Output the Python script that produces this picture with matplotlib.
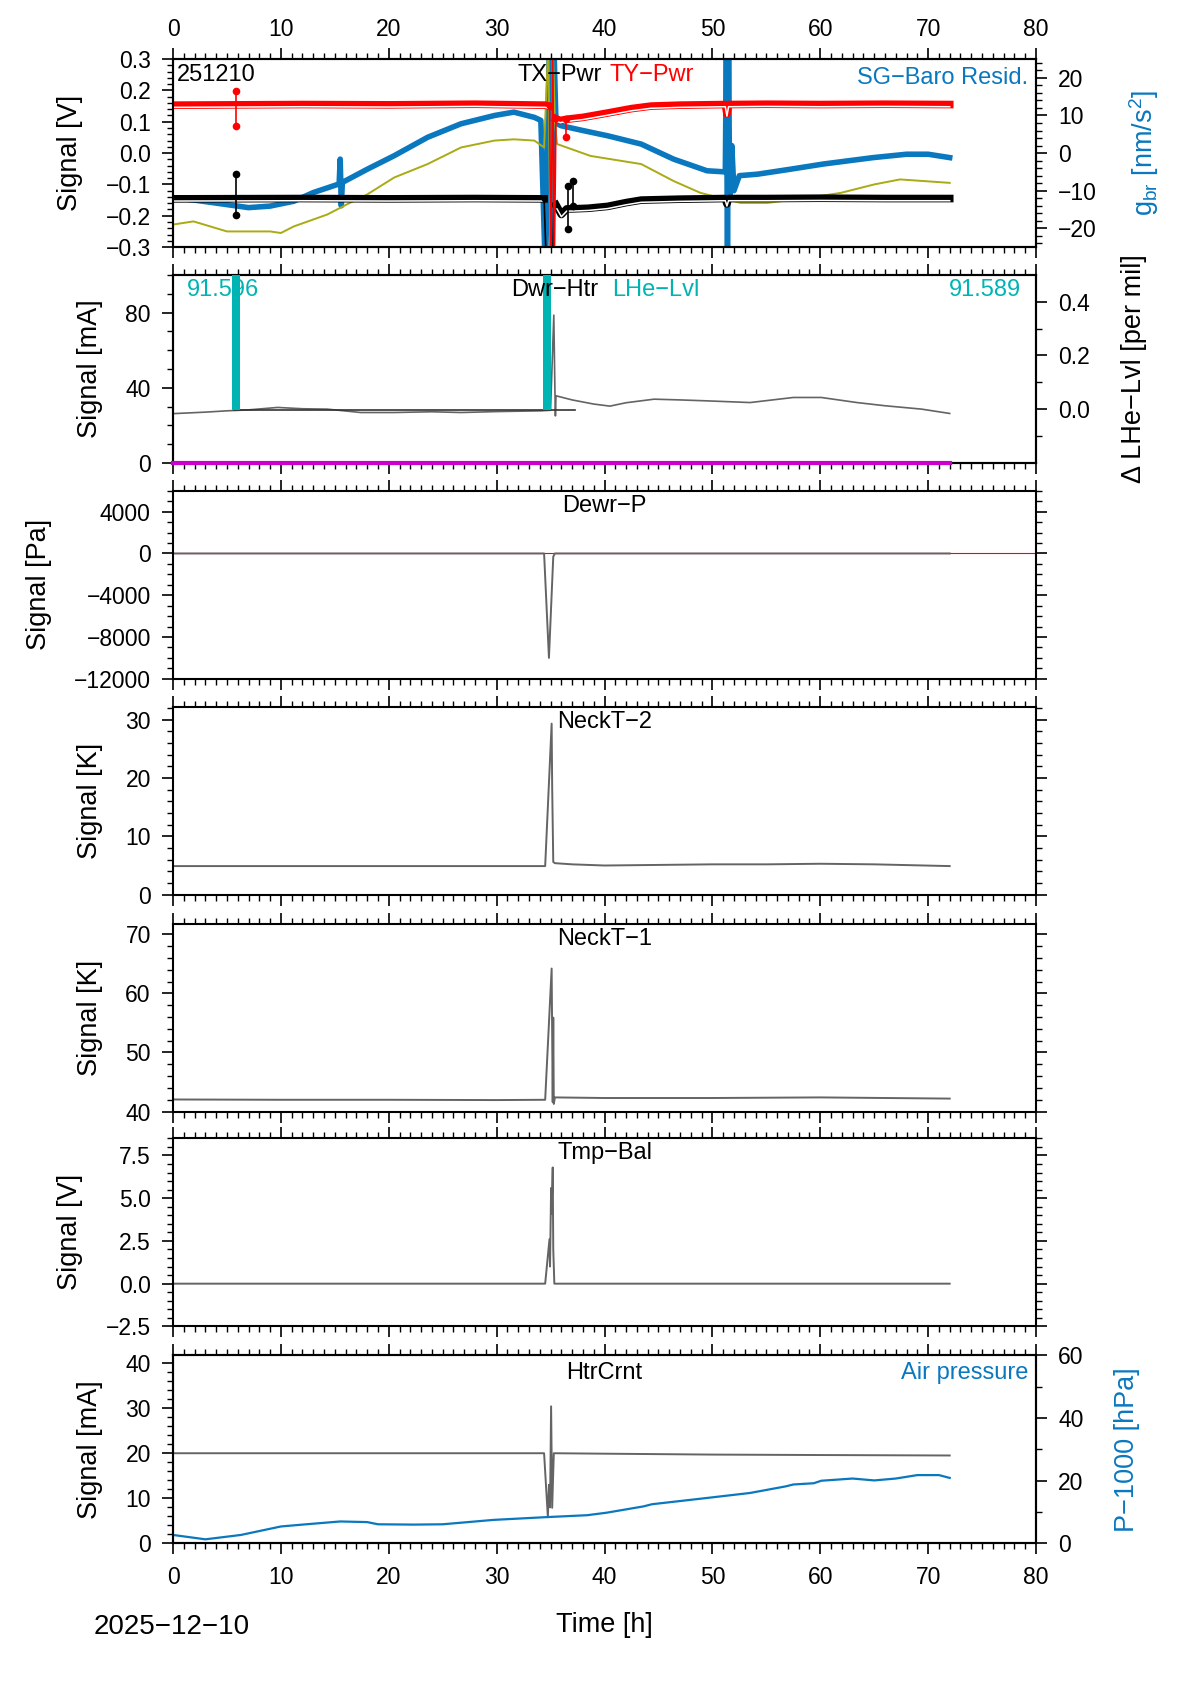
import matplotlib
matplotlib.use("Agg")
import matplotlib.pyplot as plt
from matplotlib.ticker import MultipleLocator, FixedLocator, FormatStrFormatter

plt.rcParams["font.family"] = ["Liberation Sans", "DejaVu Sans"]
plt.rcParams["mathtext.fontset"] = "custom"
plt.rcParams["mathtext.rm"] = "Liberation Sans"
plt.rcParams["mathtext.it"] = "Liberation Sans:italic"
plt.rcParams["axes.linewidth"] = 1.5

BLUE = "#0a78be"
RED = "#ff0000"
OLIVE = "#aaaa14"
TEAL = "#00b4b4"
GRAY = "#646464"
MAGENTA = "#cc00cc"
nan = float("nan")

# ---- panel 1: TX-Pwr / TY-Pwr [V], SG-Baro residual [nm/s^2]
red_t = [0, 12, 20, 28, 34.5, 34.9, nan, 35.5, 35.9, 36.5, 38, 40.3, 42.5, 44.3, 47, 51.2,
         51.35, 51.5, 55, 60, 66, 72]
red_v = [0.153, 0.155, 0.154, 0.156, 0.153, 0.150, nan, 0.110, 0.104, 0.108, 0.114, 0.128,
         0.142, 0.150, 0.153, 0.155, 0.125, 0.155, 0.156, 0.155, 0.156, 0.155]
red_evt_t = [34.9, 35.05, 35.2, 35.35, 35.5]
red_evt_v = [0.150, -0.35, 0.35, -0.35, 0.110]
red_spk_t = [5.8, 36.45]
red_spk_hi = [0.198, 0.108]
red_spk_lo = [0.088, 0.050]

blk_t = [0, 12, 20, 28, 34.4, nan, 35.5, 36.0, 36.5, 37.0, 38.5, 40.3, 42, 43.4, 47, 51.2,
         51.35, 51.5, 55, 60, 66, 72]
blk_v = [-0.146, -0.145, -0.146, -0.145, -0.146, nan, -0.165, -0.196, -0.178, -0.178,
         -0.176, -0.170, -0.158, -0.150, -0.147, -0.145, -0.162, -0.145, -0.145, -0.144,
         -0.145, -0.145]
blk_evt_t = [34.4, 34.6, 35.2, 35.3, 35.5]
blk_evt_v = [-0.146, -0.35, -0.35, -0.165, -0.165]
blk_spk_t = [5.8, 36.6, 37.05]
blk_spk_hi = [-0.067, -0.105, -0.090]
blk_spk_lo = [-0.198, -0.243, -0.170]

olv_t = [0, 1.9, 5, 9, 10, 11.2, 14.3, 16.1, 18, 20.5, 23.6, 26.7, 29.8, 31.6, 33.5, 34.4,
         34.8, 35.0, 35.2, 35.4, 35.6, 38.7, 43.4, 46.4, 48.9, 52.6, 55.1, 58.8, 61.9, 65,
         67.4, 72]
olv_v = [-0.228, -0.218, -0.250, -0.250, -0.255, -0.234, -0.196, -0.164, -0.132, -0.078,
         -0.035, 0.018, 0.040, 0.044, 0.040, 0.018, 0.35, -0.35, 0.35, 0.10, 0.029, -0.009,
         -0.035, -0.089, -0.127, -0.159, -0.159, -0.143, -0.127, -0.100, -0.084, -0.095]

sg_t = [0, 2, 5, 7, 9, 11.2, 13, 15.4, 15.5, 15.6, 15.7, 18, 20.5, 23.6, 26.7, 29.8, 31.6,
        33.5, 34.1, 34.5, 34.9, 35.1, 35.3, 35.5, 35.95, 38, 40.3, 43.4, 46.4, 49.5, 51.2,
        51.3, 51.4, 51.5, 51.6, 51.8, 52.0, 52.5, 54.2, 57.2, 60.3, 64.9, 68, 70, 72]
sg_v = [-11.9, -12.5, -13.7, -14.5, -14.1, -12.8, -10.5, -8.2, -1.6, -14.0, -7.8, -4.3,
        -0.7, 4.2, 7.8, 10.0, 10.9, 9.5, 8.7, -30, 30, -30, 30, 8.0, 7.3, 6.0, 4.6, 2.4,
        -1.6, -4.7, -5.0, 30, -30, 30, -12, 2, -10, -6.0, -5.6, -4.3, -2.9, -1.2, -0.3,
        -0.3, -1.2]

# ---- panel 2: Dwr-Htr [mA], LHe-Lvl
htr_t = [0, 3, 5, 7, 9.7, 12, 14.3, 17.4, 20.5, 24, 26.7, 30, 34.1, 35.0, 35.3, 35.4,
         35.45, 35.5, 37, 39, 40.5, 42, 44.6, 47, 49.5, 53.5, 57.5, 60.1, 63.4, 66, 69.4, 72]
htr_v = [26.2, 27.0, 27.7, 28.2, 29.5, 28.8, 28.6, 26.8, 26.8, 27.2, 26.8, 27.3, 27.7, 28.0,
         78.6, 40.0, 25.0, 35.7, 33.5, 31.3, 30.2, 32.0, 33.9, 33.5, 33.0, 32.1, 34.8, 34.8,
         32.1, 30.4, 28.6, 26.3]
lhe_ref_t = [5.7, 37.3]
lhe_ref_v = [28.2, 28.2]
lhe_fill_t = [5.8, 34.7]
lhe_fill_bottom = 28.2
lhe_start, lhe_end = "91.596", "91.589"
zero_t = [0, 72]
zero_v = [0, 0]

# ---- panel 3: Dewr-P [Pa]
dp_t = [0, 10, 20, 30, 34.4, 34.85, 35.25, 35.4, 40, 50, 60, 72]
dp_v = [0, 0, 0, 0, 0, -10000, -300, 0, 0, 0, 0, 0]
dp_ref_t = [0, 80]
dp_ref_v = [0, 0]

# ---- panel 4: NeckT-2 [K]
n2_t = [0, 10, 20, 30, 34.5, 35.1, 35.15, 35.25, 35.4, 37, 40, 45, 50, 55, 60, 65, 72]
n2_v = [4.9, 4.9, 4.9, 4.9, 4.9, 29.3, 18.4, 5.6, 5.4, 5.2, 5.0, 5.1, 5.2, 5.2, 5.3, 5.2, 4.9]

# ---- panel 5: NeckT-1 [K]
n1_t = [0, 10, 20, 30, 34.5, 35.1, 35.2, 35.25, 35.3, 35.4, 40, 50, 60, 72]
n1_v = [42.05, 42.0, 42.0, 41.95, 42.0, 64.2, 41.6, 55.9, 41.3, 42.4, 42.3, 42.3, 42.4, 42.2]

# ---- panel 6: Tmp-Bal [V]
tb_t = [0, 10, 20, 30, 34.5, 34.9, 34.95, 35.05, 35.1, 35.2, 35.25, 35.35, 40, 50, 60, 72]
tb_v = [0, 0, 0, 0, 0, 2.6, 1.0, 5.6, 4.1, 6.8, 2.0, 0, 0, 0, 0, 0]

# ---- panel 7: HtrCrnt [mA], air pressure - 1000 [hPa]
hc_t = [0, 10, 20, 30, 34.4, 34.75, 34.85, 34.95, 35.05, 35.15, 35.3, 40, 50, 60, 72]
hc_v = [20.0, 20.0, 20.0, 20.0, 20.0, 5.8, 13.0, 8.0, 30.4, 7.9, 20.0, 19.9, 19.7, 19.6, 19.5]
ap_t = [0, 3.0, 6.3, 10, 12, 15.5, 18, 19, 22.3, 25, 29.7, 34.7, 38.4, 40.2, 43.6, 44.4,
        49.5, 53.5, 56.8, 57.5, 59.4, 60.1, 63, 65, 67, 69, 71, 72]
ap_v = [2.7, 1.3, 2.7, 5.4, 6.0, 7.0, 6.8, 6.1, 6.0, 6.1, 7.5, 8.4, 9.0, 9.8, 11.8, 12.5,
        14.5, 16.1, 18.2, 18.8, 19.2, 20.0, 20.7, 20.1, 20.7, 21.8, 21.8, 20.9]

date_label = "2025\u221212\u221210"
day_code = "251210"

# ---------------------------------------------------------------- layout
W, H = 1190, 1684
fig = plt.figure(figsize=(W / 100, H / 100), dpi=100)
left, right = 173, 1036
tops = [59.1, 274.9, 490.8, 706.7, 923.6, 1138.4, 1355.4]
ph = 188
axes = [fig.add_axes([left / W, 1 - (t + ph) / H, (right - left) / W, ph / H]) for t in tops]

TICK = 16.5
LAB = 19.5
TXT = 17


def style(ax, ylim, ymaj, ymin, ylabel, right_ticks=True):
    ax.set_xlim(0, 80)
    ax.set_ylim(*ylim)
    ax.xaxis.set_major_locator(MultipleLocator(10))
    ax.xaxis.set_minor_locator(MultipleLocator(1))
    ax.yaxis.set_major_locator(MultipleLocator(ymaj))
    ax.yaxis.set_minor_locator(MultipleLocator(ymin))
    ax.tick_params(which="both", direction="out", top=True, right=right_ticks,
                   labelbottom=False, labelsize=TICK, pad=8)
    ax.tick_params(which="major", length=8, width=1.2)
    ax.tick_params(which="minor", length=4, width=1)
    ax.set_ylabel(ylabel, fontsize=LAB, labelpad=16)


def style_right(axr, ylim, ymaj, ymin, ylabel, color):
    axr.set_ylim(*ylim)
    axr.yaxis.set_major_locator(ymaj)
    axr.yaxis.set_minor_locator(ymin)
    axr.tick_params(which="both", direction="out", labelsize=TICK, pad=8)
    axr.tick_params(which="major", length=8, width=1.2)
    axr.tick_params(which="minor", length=4, width=1)
    axr.set_ylabel(ylabel, fontsize=LAB, color=color, labelpad=22)


def put_front(ax, axr):
    ax.set_zorder(axr.get_zorder() + 1)
    ax.patch.set_visible(False)


# panel 1
ax = axes[0]
axr = ax.twinx()
put_front(ax, axr)
axr.plot(sg_t, sg_v, color=BLUE, lw=4)
ax.plot(olv_t, olv_v, color=OLIVE, lw=1.4)
ax.plot(blk_t, blk_v, color="black", lw=5.5)
ax.plot(blk_t, [v - 0.007 for v in blk_v], color="white", lw=1.1)
ax.plot(blk_evt_t, blk_evt_v, color="black", lw=1.2, marker="o", ms=3)
ax.vlines(blk_spk_t, blk_spk_lo, blk_spk_hi, color="black", lw=1.2)
ax.plot(blk_spk_t + blk_spk_t, blk_spk_hi + blk_spk_lo, ls="none", marker="o", ms=4.5,
        color="black")
ax.plot(red_t, red_v, color=RED, lw=5.5)
ax.plot(red_t, [v - 0.007 for v in red_v], color="white", lw=1.1)
ax.plot(red_evt_t, red_evt_v, color=RED, lw=1.2, marker="o", ms=3)
ax.vlines(red_spk_t, red_spk_lo, red_spk_hi, color=RED, lw=1.2)
ax.plot(red_spk_t + red_spk_t, red_spk_hi + red_spk_lo, ls="none", marker="o", ms=4.5,
        color=RED)
style(ax, (-0.3, 0.3), 0.1, 0.02, "Signal [V]", right_ticks=False)
ax.tick_params(labeltop=True)
ax.xaxis.set_tick_params(which="major", pad=5)
style_right(axr, (-25, 25), MultipleLocator(10), MultipleLocator(2),
            r"g$_{\mathrm{br}}$ [nm/s$^{2}$]", BLUE)
ax.text(0.005, 0.915, day_code, transform=ax.transAxes, fontsize=TXT, ha="left", va="center")
ax.text(0.4965, 0.915, "TX\u2212Pwr", transform=ax.transAxes, fontsize=TXT, ha="right",
        va="center")
ax.text(0.506, 0.915, "TY\u2212Pwr", transform=ax.transAxes, fontsize=TXT, ha="left",
        va="center", color=RED)
ax.text(0.991, 0.897, "SG\u2212Baro Resid.", transform=ax.transAxes, fontsize=TXT, ha="right",
        va="center", color=BLUE)

# panel 2
ax = axes[1]
axr = ax.twinx()
put_front(ax, axr)
ax.plot(htr_t, htr_v, color=GRAY, lw=1.2)
ax.plot(lhe_ref_t, lhe_ref_v, color="#333333", lw=1.2)
ax.bar(lhe_fill_t, 100 - lhe_fill_bottom, bottom=lhe_fill_bottom, width=0.75, color=TEAL,
       zorder=3)
ax.plot(zero_t, zero_v, color=MAGENTA, lw=3, clip_on=False, zorder=4)
style(ax, (0, 100), 40, 10, "Signal [mA]", right_ticks=False)
style_right(axr, (-0.2, 0.5), FixedLocator([0, 0.2, 0.4]), FixedLocator([-0.1, 0.1, 0.3]),
            "\u0394 LHe\u2212Lvl [per mil]", "black")
axr.yaxis.set_major_formatter(FormatStrFormatter("%.1f"))
ax.text(0.016, 0.92, lhe_start, transform=ax.transAxes, fontsize=TXT, ha="left", va="center",
        color=TEAL, zorder=5)
ax.text(0.493, 0.92, "Dwr\u2212Htr", transform=ax.transAxes, fontsize=TXT, ha="right",
        va="center", zorder=5)
ax.text(0.509, 0.92, "LHe\u2212Lvl", transform=ax.transAxes, fontsize=TXT, ha="left",
        va="center", color=TEAL, zorder=5)
ax.text(0.983, 0.92, lhe_end, transform=ax.transAxes, fontsize=TXT, ha="right", va="center",
        color=TEAL, zorder=5)

# panel 3
ax = axes[2]
ax.plot(dp_ref_t, dp_ref_v, color=RED, lw=0.8)
ax.plot(dp_t, dp_v, color=GRAY, lw=1.4)
style(ax, (-12000, 6000), 4000, 1000, "Signal [Pa]")
ax.text(0.5, 0.92, "Dewr\u2212P", transform=ax.transAxes, fontsize=TXT, ha="center", va="center")

# panel 4
ax = axes[3]
ax.plot(n2_t, n2_v, color=GRAY, lw=1.4)
style(ax, (0, 32.2), 10, 2, "Signal [K]")
ax.text(0.5, 0.92, "NeckT\u22122", transform=ax.transAxes, fontsize=TXT, ha="center",
        va="center")

# panel 5
ax = axes[4]
ax.plot(n1_t, n1_v, color=GRAY, lw=1.4)
style(ax, (40, 71.8), 10, 2, "Signal [K]")
ax.text(0.5, 0.92, "NeckT\u22121", transform=ax.transAxes, fontsize=TXT, ha="center",
        va="center")

# panel 6
ax = axes[5]
ax.plot(tb_t, tb_v, color=GRAY, lw=1.4)
style(ax, (-2.5, 8.5), 2.5, 0.5, "Signal [V]")
ax.text(0.5, 0.92, "Tmp\u2212Bal", transform=ax.transAxes, fontsize=TXT, ha="center",
        va="center")

# panel 7
ax = axes[6]
axr = ax.twinx()
ax.plot(hc_t, hc_v, color=GRAY, lw=1.4)
axr.plot(ap_t, ap_v, color=BLUE, lw=1.6)
style(ax, (0, 41.7), 10, 2, "Signal [mA]", right_ticks=False)
ax.tick_params(labelbottom=True)
style_right(axr, (0, 60), MultipleLocator(20), MultipleLocator(10), "P\u22121000 [hPa]", BLUE)
ax.set_xlabel("Time [h]", fontsize=LAB, labelpad=17)
ax.text(0.5, 0.908, "HtrCrnt", transform=ax.transAxes, fontsize=TXT, ha="center", va="center")
ax.text(0.991, 0.908, "Air pressure", transform=ax.transAxes, fontsize=TXT, ha="right",
        va="center", color=BLUE)

fig.text(172 / W, 1 - 1627 / H, date_label, fontsize=20, ha="center", va="center")

fig.savefig("out.png", dpi=100)
